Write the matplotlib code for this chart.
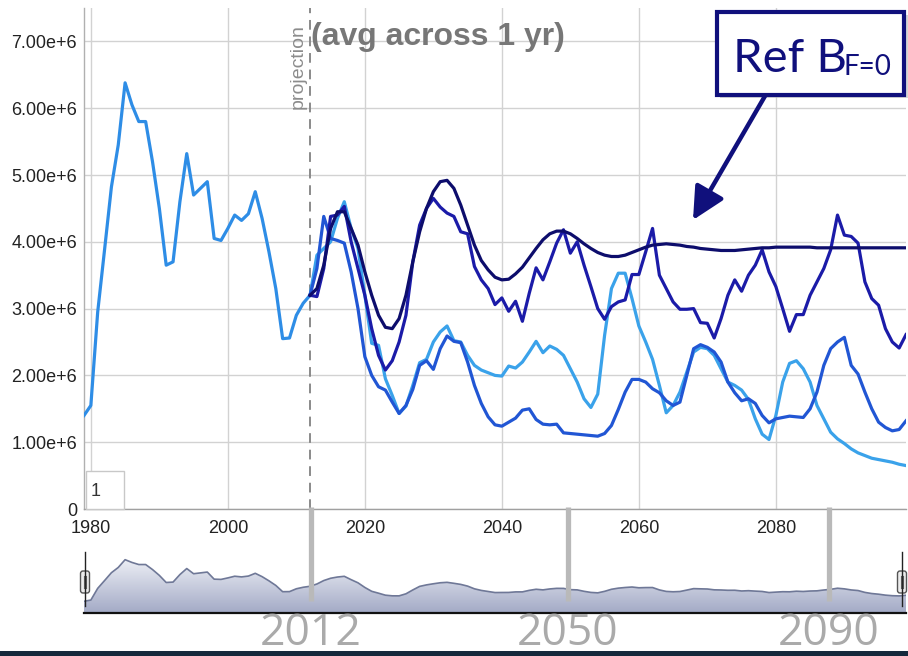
import numpy as np
import matplotlib
matplotlib.use("Agg")
import matplotlib.pyplot as plt
from matplotlib.patches import Rectangle, FancyBboxPatch
from matplotlib.colors import LinearSegmentedColormap

plt.rcParams['font.family'] = ['Liberation Sans', 'DejaVu Sans']

# ---------------- data (values in millions) ----------------
hist_years = list(range(1979, 2013))
hist_vals = [1.40, 1.55, 2.95, 3.88, 4.82, 5.45, 6.38, 6.05, 5.80, 5.80, 5.20, 4.50,
             3.65, 3.70, 4.60, 5.32, 4.70, 4.80, 4.90, 4.05, 4.02, 4.20, 4.40, 4.32,
             4.42, 4.75, 4.35, 3.85, 3.30, 2.55, 2.56, 2.90, 3.08, 3.20]

proj_years = list(range(2012, 2100))

ref_b_f0 = [3.20, 3.30, 3.65, 4.20, 4.45, 4.45, 4.20, 3.95, 3.55, 3.20,
            2.90, 2.72, 2.70, 2.85, 3.20, 3.70, 4.15, 4.50, 4.75, 4.90,
            4.92, 4.80, 4.55, 4.25, 3.95, 3.72, 3.58, 3.47, 3.43, 3.44,
            3.52, 3.62, 3.76, 3.90, 4.03, 4.12, 4.16, 4.16, 4.12, 4.05,
            3.97, 3.90, 3.84, 3.80, 3.78, 3.78, 3.80, 3.84, 3.88, 3.92,
            3.95, 3.96, 3.97, 3.96, 3.95, 3.93, 3.92, 3.90, 3.89, 3.88,
            3.87, 3.87, 3.87, 3.88, 3.89, 3.90, 3.91, 3.91, 3.92, 3.92,
            3.92, 3.92, 3.92, 3.92, 3.91, 3.91, 3.91, 3.91, 3.91, 3.91,
            3.91, 3.91, 3.91, 3.91, 3.91, 3.91, 3.91, 3.91]

series_b = [3.20, 3.18, 3.60, 4.38, 4.40, 4.53, 4.00, 3.60, 3.20, 2.70,
            2.30, 2.08, 2.22, 2.50, 2.90, 3.70, 4.25, 4.50, 4.65, 4.52,
            4.43, 4.38, 4.15, 4.12, 3.63, 3.43, 3.30, 3.06, 3.16, 2.96,
            3.11, 2.81, 3.23, 3.61, 3.43, 3.70, 3.98, 4.18, 3.83, 4.00,
            3.65, 3.33, 3.00, 2.84, 3.03, 3.10, 3.13, 3.51, 3.51, 3.85,
            4.20, 3.50, 3.30, 3.10, 2.99, 2.99, 3.00, 2.79, 2.78, 2.56,
            2.85, 3.20, 3.43, 3.26, 3.50, 3.65, 3.88, 3.55, 3.33, 3.00,
            2.66, 2.91, 2.91, 3.20, 3.40, 3.60, 3.88, 4.40, 4.10, 4.08,
            3.98, 3.40, 3.15, 3.05, 2.70, 2.50, 2.41, 2.61]

series_c = [3.20, 3.60, 4.38, 4.05, 4.02, 3.98, 3.55, 3.00, 2.28, 2.00,
            1.83, 1.78, 1.60, 1.43, 1.55, 1.79, 2.15, 2.22, 2.09, 2.40,
            2.59, 2.51, 2.49, 2.20, 1.85, 1.58, 1.38, 1.26, 1.24, 1.30,
            1.36, 1.48, 1.50, 1.34, 1.27, 1.26, 1.27, 1.14, 1.13, 1.12,
            1.11, 1.10, 1.09, 1.13, 1.25, 1.49, 1.75, 1.94, 1.94, 1.90,
            1.80, 1.74, 1.62, 1.55, 1.60, 2.00, 2.40, 2.46, 2.42, 2.35,
            2.20, 1.90, 1.74, 1.62, 1.65, 1.58, 1.40, 1.29, 1.35, 1.37,
            1.39, 1.38, 1.37, 1.50, 1.75, 2.15, 2.40, 2.50, 2.57, 2.15,
            2.02, 1.75, 1.50, 1.30, 1.22, 1.17, 1.19, 1.32]

series_d = [3.20, 3.80, 3.90, 4.00, 4.35, 4.60, 4.20, 3.90, 3.20, 2.48,
            2.45, 1.95, 1.70, 1.43, 1.54, 1.85, 2.19, 2.24, 2.50, 2.65,
            2.74, 2.52, 2.50, 2.30, 2.15, 2.08, 2.04, 2.00, 1.99, 2.14,
            2.11, 2.20, 2.35, 2.51, 2.34, 2.44, 2.39, 2.30, 2.10, 1.90,
            1.65, 1.52, 1.72, 2.60, 3.30, 3.53, 3.53, 3.15, 2.74, 2.50,
            2.24, 1.85, 1.44, 1.55, 1.75, 2.05, 2.35, 2.42, 2.40, 2.30,
            2.10, 1.90, 1.85, 1.78, 1.64, 1.35, 1.12, 1.04, 1.40, 1.90,
            2.18, 2.22, 2.10, 1.90, 1.55, 1.35, 1.15, 1.05, 0.98, 0.90,
            0.84, 0.80, 0.76, 0.74, 0.72, 0.70, 0.67, 0.65]

y_ticks = [0, 1e6, 2e6, 3e6, 4e6, 5e6, 6e6, 7e6]
y_tick_labels = ['0', '1.00e+6', '2.00e+6', '3.00e+6', '4.00e+6', '5.00e+6', '6.00e+6', '7.00e+6']
x_ticks = [1980, 2000, 2020, 2040, 2060, 2080]
x_tick_labels = ['1980', '2000', '2020', '2040', '2060', '2080']
projection_year = 2012
marker_labels = ['2012', '2050', '2090']

# ---------------- figure ----------------
W, H = 908, 656
fig = plt.figure(figsize=(W / 100, H / 100), dpi=100)
fig.patch.set_facecolor('white')

def fr(x0, y_top, x1, y_bot):
    return [x0 / W, 1 - y_bot / H, (x1 - x0) / W, (y_bot - y_top) / H]

ax = fig.add_axes(fr(84, 8, 906, 509))
scale = 1e6
hx = np.array(hist_years)
px = np.array(proj_years)
col_hist = '#2e8de6'
cols = {'d': '#3aa2ea', 'c': '#2156d4', 'b': '#1b1ba8', 'a': '#0d0d6c'}
lw = 2.3
ax.plot(hx, np.array(hist_vals) * scale, color=col_hist, lw=lw, zorder=3)
ax.plot(px, np.array(series_d) * scale, color=cols['d'], lw=lw, zorder=3)
ax.plot(px, np.array(series_c) * scale, color=cols['c'], lw=lw, zorder=4)
ax.plot(px, np.array(series_b) * scale, color=cols['b'], lw=lw, zorder=5)
ax.plot(px, np.array(ref_b_f0) * scale, color=cols['a'], lw=lw, zorder=6)

ax.set_xlim(1979, 2099)
ax.set_ylim(0, 7.5e6)
ax.set_yticks(y_ticks)
ax.set_yticklabels(y_tick_labels)
ax.set_xticks(x_ticks)
ax.set_xticklabels(x_tick_labels)
ax.tick_params(axis='both', length=0, labelsize=13, colors='#222222')
ax.tick_params(axis='y', pad=5)
ax.tick_params(axis='x', pad=8)
ax.grid(True, color='#d2d2d2', lw=1.0)
ax.set_axisbelow(True)
for s in ['top', 'right']:
    ax.spines[s].set_visible(False)
ax.spines['left'].set_color('#b0b0b0')
ax.spines['bottom'].set_color('#a0a0a0')
ax.spines['left'].set_linewidth(1.0)
ax.spines['bottom'].set_linewidth(1.0)

# projection dashed line
ax.axvline(projection_year, color='#8a8a8a', lw=1.4, ls=(0, (5, 3.5)), zorder=2)
ax.text(projection_year - 0.55, 7.26e6, 'projection', rotation=90, ha='right', va='top',
        fontsize=14, color='#8c8c8c')
ax.text(projection_year + 0.2, 7.06e6, '(avg across 1 yr)', ha='left', va='center',
        fontsize=23, fontweight='bold', color='#777777')

# ---------------- navigator ----------------
nav = fig.add_axes(fr(84, 552, 906, 613))
nav_years = np.concatenate([hx, px[1:]])
proj_mean = np.mean(np.vstack([ref_b_f0, series_b, series_c, series_d]), axis=0)
nav_vals = np.concatenate([np.array(hist_vals), proj_mean[1:]]) * scale
nav.set_xlim(1979, 2099)
nav.set_ylim(0, 7.3e6)
nav.axis('off')
poly = nav.fill_between(nav_years, 0, nav_vals, color='none', lw=0)
grad = np.linspace(0, 1, 256).reshape(-1, 1)
cmap = LinearSegmentedColormap.from_list('g', ['#eef0f6', '#a3aac6'])
im = nav.imshow(grad, extent=[1979, 2099, 0, 6.5e6], aspect='auto', cmap=cmap,
                origin='upper', zorder=1)
nav.set_ylim(0, 7.3e6)
im.set_clip_path(poly.get_paths()[0], transform=nav.transData)
nav.plot(nav_years, nav_vals, color='#6f7897', lw=1.2, zorder=2)

# ---------------- overlay annotations (pixel coords) ----------------
ov = fig.add_axes([0, 0, 1, 1], zorder=10)
ov.set_xlim(0, W)
ov.set_ylim(H, 0)
ov.axis('off')
ov.patch.set_alpha(0)

# navigator baseline and handles
ov.plot([84, 906], [613, 613], color='#111111', lw=1.6)
for hxp in [85, 902]:
    ov.plot([hxp, hxp], [552, 606], color='#222222', lw=1.0)
    ov.add_patch(FancyBboxPatch((hxp - 4.5, 571), 9, 22, boxstyle='round,pad=0,rounding_size=2.5',
                                fc='#ececec', ec='#555555', lw=1.0))
    ov.plot([hxp - 1.3, hxp - 1.3], [576, 588], color='#555555', lw=0.8)
    ov.plot([hxp + 1.3, hxp + 1.3], [576, 588], color='#555555', lw=0.8)

# "1" box
ov.add_patch(Rectangle((86, 471), 38, 38, fc='white', ec='#c8c8c8', lw=1.0))
ov.text(91, 491, '1', ha='left', va='center', fontsize=13, color='#333333')

# slide markers
for xm, lab in zip([311, 568, 829], marker_labels):
    ov.plot([xm, xm], [507, 601], color='#b9b9b9', lw=3.8, solid_capstyle='butt')
    ov.text(xm, 634, lab, ha='center', va='center', fontsize=32, color='#aaaaaa',
            family=['Open Sans', 'DejaVu Sans'])

# bottom dark band
ov.add_patch(Rectangle((0, 651), W, 6, fc='#15293c', ec='none'))

# callout
navy = '#10107c'
ov.add_patch(Rectangle((720, 15), 188, 83, fc='#bbbbbb', ec='none', alpha=0.6))
ov.add_patch(Rectangle((717, 12), 187, 83, fc='white', ec=navy, lw=3.0))
ov.text(733, 72, 'Ref B', ha='left', va='baseline', fontsize=34, color=navy,
        family=['Lato', 'DejaVu Sans'])
ov.text(843, 75, 'F=0', ha='left', va='baseline', fontsize=20, color=navy,
        family=['Lato', 'DejaVu Sans'])
ov.annotate('', xy=(693, 220), xytext=(765, 96),
            arrowprops=dict(arrowstyle='-|>,head_length=0.9,head_width=0.45', color=navy,
                            lw=3.2, shrinkA=0, shrinkB=0, mutation_scale=22))

fig.savefig('out.png', dpi=100, facecolor='white')
